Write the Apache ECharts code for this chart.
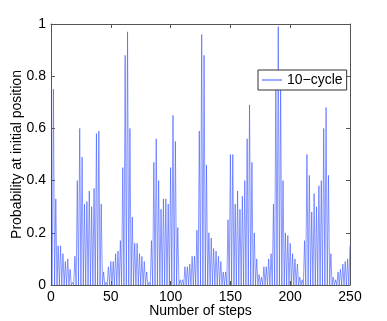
<!DOCTYPE html>
<html>
<head>
<meta charset="utf-8">
<script src="https://cdn.jsdelivr.net/npm/echarts@6/dist/echarts.min.js"></script>
<style>
    html, body { margin: 0; padding: 0; background: #fff; }
    #main { width: 387px; height: 321px; }
</style>
</head>
<body>
<div id="main"></div>
<script>
// probability at the initial position, steps 1..250 (odd steps are 0)
var probability = [
    0, 0.75, 0, 0.33, 0, 0.15, 0, 0.15, 0, 0.12,
    0, 0.09, 0, 0.10, 0, 0.06, 0, 0.01, 0, 0.11,
    0, 0.40, 0, 0.60, 0, 0.49, 0, 0.31, 0, 0.32,
    0, 0.36, 0, 0.30, 0, 0.37, 0, 0.58, 0, 0.59,
    0, 0.31, 0, 0.05, 0, 0.01, 0, 0.07, 0, 0.09,
    0, 0.09, 0, 0.12, 0, 0.13, 0, 0.17, 0, 0.45,
    0, 0.88, 0, 0.97, 0, 0.60, 0, 0.26, 0, 0.16,
    0, 0.16, 0, 0.12, 0, 0.11, 0, 0.09, 0, 0.05,
    0, 0.01, 0, 0.17, 0, 0.47, 0, 0.56, 0, 0.40,
    0, 0.29, 0, 0.33, 0, 0.33, 0, 0.31, 0, 0.45,
    0, 0.65, 0, 0.55, 0, 0.22, 0, 0.02, 0, 0.02,
    0, 0.07, 0, 0.07, 0, 0.08, 0, 0.11, 0, 0.11,
    0, 0.21, 0, 0.59, 0, 0.96, 0, 0.88, 0, 0.46,
    0, 0.20, 0, 0.18, 0, 0.14, 0, 0.13, 0, 0.11,
    0, 0.09, 0, 0.05, 0, 0.05, 0, 0.25, 0, 0.50,
    0, 0.50, 0, 0.31, 0, 0.36, 0, 0.29, 0, 0.34,
    0, 0.40, 0, 0.56, 0, 0.69, 0, 0.47, 0, 0.20,
    0, 0.10, 0, 0.04, 0, 0.03, 0, 0.07, 0, 0.07,
    0, 0.10, 0, 0.12, 0, 0.31, 0, 0.80, 0, 0.99,
    0, 0.77, 0, 0.40, 0, 0.20, 0, 0.19, 0, 0.16,
    0, 0.12, 0, 0.10, 0, 0.08, 0, 0.03, 0, 0.02,
    0, 0.17, 0, 0.50, 0, 0.42, 0, 0.28, 0, 0.35,
    0, 0.30, 0, 0.38, 0, 0.40, 0, 0.60, 0, 0.68,
    0, 0.42, 0, 0.12, 0, 0.03, 0, 0.02, 0, 0.05,
    0, 0.06, 0, 0.08, 0, 0.09, 0, 0.10, 0, 0.15
];
var firstStep = 1;
var xTicks = [0, 250, 50];   // min, max, interval
var yTicks = [0, 1, 0.2];
var seriesName = "10\u2212cycle";

var points = [];
for (var i = 0; i < probability.length; i++) {
    points.push([firstStep + i, probability[i]]);
}

var font = "Liberation Sans";
var boxColor = "#555";
var lineColor = "#3a55ff";

function axisBase(extra) {
    var a = {
        type: "value",
        axisLine: { show: true, onZero: false, lineStyle: { color: boxColor, width: 1 } },
        axisTick: { show: true, inside: true, length: 4, lineStyle: { color: boxColor } },
        splitLine: { show: false },
        axisLabel: { color: "#000", fontFamily: font, fontSize: 14 }
    };
    for (var k in extra) a[k] = extra[k];
    return a;
}

var chart = echarts.init(document.getElementById("main"));
chart.setOption({
    animation: false,
    backgroundColor: "#fff",
    grid: { left: 51, top: 24, right: 37, bottom: 36, containLabel: false, outerBoundsMode: "none" },
    legend: {
        data: [{ name: seriesName, icon: "rect" }],
        left: 258,
        top: 70,
        padding: [3, 4, 3, 4],
        itemWidth: 20,
        itemHeight: 1,
        backgroundColor: "#fff",
        borderColor: "#333",
        borderWidth: 1,
        borderRadius: 0,
        textStyle: { color: "#000", fontFamily: font, fontSize: 14 }
    },
    xAxis: [
        axisBase({
            min: xTicks[0], max: xTicks[1], interval: xTicks[2],
            name: "Number of steps",
            nameLocation: "middle",
            nameGap: 19,
            nameMoveOverlap: false,
            nameTextStyle: { color: "#000", fontFamily: font, fontSize: 14 },
            axisLabel: { color: "#000", fontFamily: font, fontSize: 14, margin: 5 }
        }),
        axisBase({
            position: "top",
            min: xTicks[0], max: xTicks[1], interval: xTicks[2],
            axisLabel: { show: false }
        })
    ],
    yAxis: [
        axisBase({
            min: yTicks[0], max: yTicks[1], interval: yTicks[2],
            name: "Probability at initial position",
            nameLocation: "middle",
            nameGap: 27,
            nameMoveOverlap: false,
            nameTextStyle: { color: "#000", fontFamily: font, fontSize: 14 },
            axisLabel: { color: "#000", fontFamily: font, fontSize: 14, margin: 5 }
        }),
        axisBase({
            position: "right",
            min: yTicks[0], max: yTicks[1], interval: yTicks[2],
            axisLabel: { show: false }
        })
    ],
    series: [{
        name: seriesName,
        type: "line",
        symbol: "none",
        data: points,
        lineStyle: { color: lineColor, width: 0.6 },
        itemStyle: { color: lineColor }
    }]
});
</script>
</body>
</html>
